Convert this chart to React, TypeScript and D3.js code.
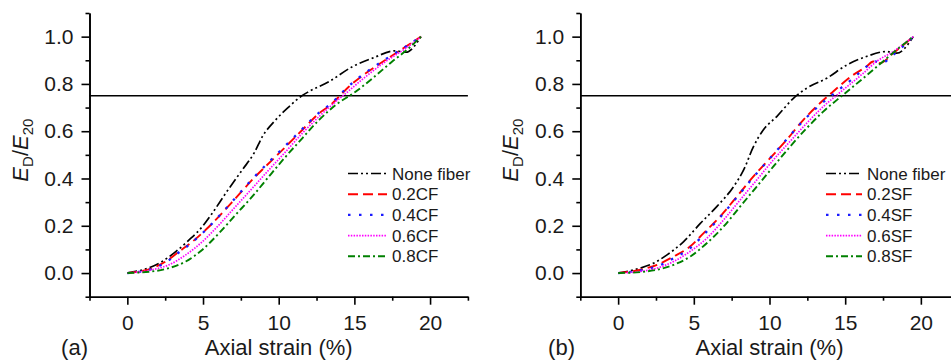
import React, { useRef, useEffect } from 'react';
import * as d3 from 'd3';

type Pt = [number, number];

// panel (a): carbon fiber
const cfNone: Pt[] = [[0, 0], [1.65, 0.028], [2.3, 0.049], [3.2, 0.091], [4.08, 0.14], [4.96, 0.197], [5.62, 0.254], [6.5, 0.338], [7.6, 0.437], [8.37, 0.507], [8.92, 0.577], [9.8, 0.648], [10.69, 0.704], [11.46, 0.747], [12.0, 0.768], [13.33, 0.81], [14.87, 0.873], [16.2, 0.909], [17.7, 0.94], [18.4, 0.934], [19.4, 1.0]];
const cf02: Pt[] = [[0, 0], [1.65, 0.021], [2.54, 0.049], [3.42, 0.091], [4.3, 0.133], [5.18, 0.183], [6.06, 0.24], [7.16, 0.317], [8.26, 0.395], [9.58, 0.479], [10.47, 0.535], [11.57, 0.606], [12.67, 0.676], [13.55, 0.718], [14.1, 0.754], [14.65, 0.789], [15.75, 0.845], [17.07, 0.902], [18.4, 0.958], [19.4, 1.0]];
const cf04: Pt[] = [[0, 0], [1.65, 0.018], [2.54, 0.045], [3.42, 0.088], [4.3, 0.131], [5.18, 0.182], [6.06, 0.241], [7.16, 0.319], [8.26, 0.398], [9.58, 0.484], [10.47, 0.54], [11.57, 0.61], [12.67, 0.679], [13.55, 0.722], [14.1, 0.758], [14.65, 0.792], [15.75, 0.848], [17.07, 0.905], [18.4, 0.958], [19.4, 1.0]];
const cf06: Pt[] = [[0, 0], [1.65, 0.014], [2.76, 0.035], [3.86, 0.077], [4.96, 0.133], [6.06, 0.204], [7.16, 0.282], [8.26, 0.359], [9.36, 0.437], [10.47, 0.514], [11.57, 0.592], [12.67, 0.662], [13.77, 0.725], [14.43, 0.76], [15.75, 0.831], [17.07, 0.895], [18.4, 0.951], [19.4, 1.0]];
const cf08: Pt[] = [[0, 0], [1.65, 0.007], [2.76, 0.021], [3.86, 0.049], [4.96, 0.099], [6.06, 0.169], [7.16, 0.247], [8.26, 0.324], [9.36, 0.409], [10.47, 0.493], [11.57, 0.571], [12.67, 0.648], [13.77, 0.711], [15.1, 0.768], [16.2, 0.824], [17.5, 0.895], [18.6, 0.951], [19.4, 1.0]];

// panel (b): steel fiber
const sfNone: Pt[] = [[0, 0], [1.47, 0.021], [2.35, 0.042], [3.23, 0.077], [4.33, 0.133], [5.43, 0.21], [6.53, 0.282], [7.63, 0.366], [8.3, 0.437], [8.94, 0.535], [9.6, 0.606], [10.48, 0.662], [11.58, 0.739], [12.46, 0.782], [13.78, 0.824], [15.1, 0.88], [16.4, 0.916], [17.7, 0.937], [18.4, 0.93], [19.5, 1.0]];
const sf02: Pt[] = [[0, 0], [1.47, 0.014], [2.57, 0.035], [3.67, 0.07], [4.77, 0.113], [5.65, 0.169], [6.75, 0.24], [7.85, 0.324], [8.94, 0.409], [10.04, 0.486], [11.14, 0.564], [12.24, 0.648], [13.33, 0.718], [14.21, 0.768], [15.53, 0.838], [16.4, 0.873], [16.85, 0.895], [17.3, 0.888], [18.17, 0.93], [19.5, 1.0]];
const sf04: Pt[] = [[0, 0], [1.47, 0.011], [2.57, 0.028], [3.67, 0.063], [4.77, 0.106], [5.65, 0.162], [6.75, 0.237], [7.85, 0.321], [8.94, 0.406], [10.04, 0.486], [11.14, 0.566], [12.24, 0.645], [13.33, 0.711], [14.43, 0.768], [15.53, 0.824], [16.4, 0.873], [16.96, 0.895], [17.4, 0.888], [18.17, 0.923], [19.5, 1.0]];
const sf06: Pt[] = [[0, 0], [1.47, 0.007], [2.57, 0.021], [3.67, 0.049], [4.77, 0.092], [5.87, 0.148], [6.97, 0.225], [8.07, 0.31], [9.16, 0.394], [10.26, 0.479], [11.36, 0.557], [12.46, 0.634], [13.55, 0.704], [14.87, 0.775], [16.19, 0.845], [17.07, 0.895], [18.17, 0.937], [19.5, 1.0]];
const sf08: Pt[] = [[0, 0], [1.47, 0.004], [2.57, 0.014], [3.67, 0.035], [4.77, 0.07], [5.87, 0.127], [6.97, 0.197], [8.07, 0.282], [9.16, 0.366], [10.26, 0.451], [11.36, 0.535], [12.46, 0.613], [13.55, 0.683], [14.87, 0.754], [16.19, 0.824], [17.5, 0.895], [18.4, 0.944], [19.5, 1.0]];

const labelsA = ['None fiber', '0.2CF', '0.4CF', '0.6CF', '0.8CF'];
const labelsB = ['None fiber', '0.2SF', '0.4SF', '0.6SF', '0.8SF'];
const xMajor = [0, 5, 10, 15, 20];
const xMinor = [-2.5, 2.5, 7.5, 12.5, 17.5, 22.5];
const yMajor = [0, 0.2, 0.4, 0.6, 0.8, 1.0];
const yMinor = [-0.1, 0.1, 0.3, 0.5, 0.7, 0.9, 1.1];
const refLine = 0.75;

const colors = ['#000000', '#ff0000', '#1a1aff', '#ff00ff', '#008000'];
const dashes = ['10,3,2,3,2,3', '10,5', '2.5,8.5', '1.5,1.3', '7,3,2,3'];
const widths = [1.7, 1.9, 2.3, 1.7, 1.9];

const FONT = 'Arial, "Liberation Sans", sans-serif';

const App = () => {
  const ref = useRef<SVGSVGElement>(null);

  useEffect(() => {
    const svg = d3.select(ref.current);
    svg.selectAll('*').remove();

    const panels = [
      { left: 89.5, series: [cfNone, cf02, cf04, cf06, cf08], labels: labelsA, tag: '(a)', tagX: 88, legX: 348, legW: 39 },
      { left: 580.3, series: [sfNone, sf02, sf04, sf06, sf08], labels: labelsB, tag: '(b)', tagX: 575, legX: 826, legW: 36 },
    ];

    const y = d3.scaleLinear().domain([-0.1, 1.1]).range([296.7, 13]);

    panels.forEach((p) => {
      const x = d3.scaleLinear().domain([-2.5, 22.5]).range([p.left, p.left + 378.4]);
      const g = svg.append('g');

      // reference line
      g.append('line')
        .attr('x1', x(-2.5)).attr('x2', x(22.5))
        .attr('y1', y(refLine)).attr('y2', y(refLine))
        .attr('stroke', '#000').attr('stroke-width', 1.6);

      const line = d3.line<Pt>()
        .x((d) => x(d[0]))
        .y((d) => y(d[1]))
        .curve(d3.curveMonotoneX);

      p.series.forEach((s, i) => {
        g.append('path')
          .attr('d', line(s))
          .attr('fill', 'none')
          .attr('stroke', colors[i])
          .attr('stroke-width', widths[i])
          .attr('stroke-dasharray', dashes[i]);
      });

      // axes
      const bottom = g.append('g').attr('transform', `translate(0,${y(-0.1)})`);
      bottom.call(d3.axisBottom(x).tickValues(xMajor).tickSize(8).tickSizeOuter(0).tickPadding(10).tickFormat(d3.format('d')));
      bottom.append('g').call(d3.axisBottom(x).tickValues(xMinor).tickSize(4).tickSizeOuter(0).tickFormat(() => ''));
      const leftAx = g.append('g').attr('transform', `translate(${x(-2.5)},0)`);
      leftAx.call(d3.axisLeft(y).tickValues(yMajor).tickSize(8).tickSizeOuter(0).tickPadding(8).tickFormat(d3.format('.1f')));
      leftAx.append('g').call(d3.axisLeft(y).tickValues(yMinor).tickSize(4).tickSizeOuter(0).tickFormat(() => ''));
      g.selectAll('.domain, .tick line').attr('stroke', '#000').attr('stroke-width', 1.6);
      g.selectAll('.tick text').attr('font-family', FONT).attr('font-size', 21).attr('fill', '#1a1a1a');

      // axis titles
      g.append('text')
        .attr('x', x(10)).attr('y', 355)
        .attr('text-anchor', 'middle')
        .attr('font-family', FONT).attr('font-size', 22).attr('fill', '#1a1a1a')
        .text('Axial strain (%)');
      g.append('text')
        .attr('x', p.tagX).attr('y', 355)
        .attr('text-anchor', 'end')
        .attr('font-family', FONT).attr('font-size', 22).attr('fill', '#1a1a1a')
        .text(p.tag);

      const yl = g.append('text')
        .attr('transform', `translate(${x(-2.5) - 62},${y(0.52)}) rotate(-90)`)
        .attr('text-anchor', 'middle')
        .attr('font-family', FONT).attr('font-size', 22).attr('fill', '#1a1a1a');
      yl.append('tspan').attr('font-style', 'italic').text('E');
      yl.append('tspan').attr('font-size', 15).attr('dy', 5).text('D');
      yl.append('tspan').attr('dy', -5).text('/');
      yl.append('tspan').attr('font-style', 'italic').text('E');
      yl.append('tspan').attr('font-size', 15).attr('dy', 5).text('20');

      // legend
      p.labels.forEach((lab, i) => {
        const ly = 173.5 + i * 20.7;
        g.append('line')
          .attr('x1', p.legX).attr('x2', p.legX + p.legW)
          .attr('y1', ly).attr('y2', ly)
          .attr('stroke', colors[i])
          .attr('stroke-width', widths[i])
          .attr('stroke-dasharray', dashes[i]);
        g.append('text')
          .attr('x', p.legX + p.legW + 5).attr('y', ly)
          .attr('dy', '0.36em')
          .attr('font-family', FONT).attr('font-size', 17).attr('fill', '#1a1a1a')
          .text(lab);
      });
    });
  }, []);

  return (
    <div style={{ position: 'absolute', left: 0, top: 0 }}>
      <svg ref={ref} width={951} height={363} style={{ display: 'block', background: '#fff' }} />
    </div>
  );
};

export default App;
